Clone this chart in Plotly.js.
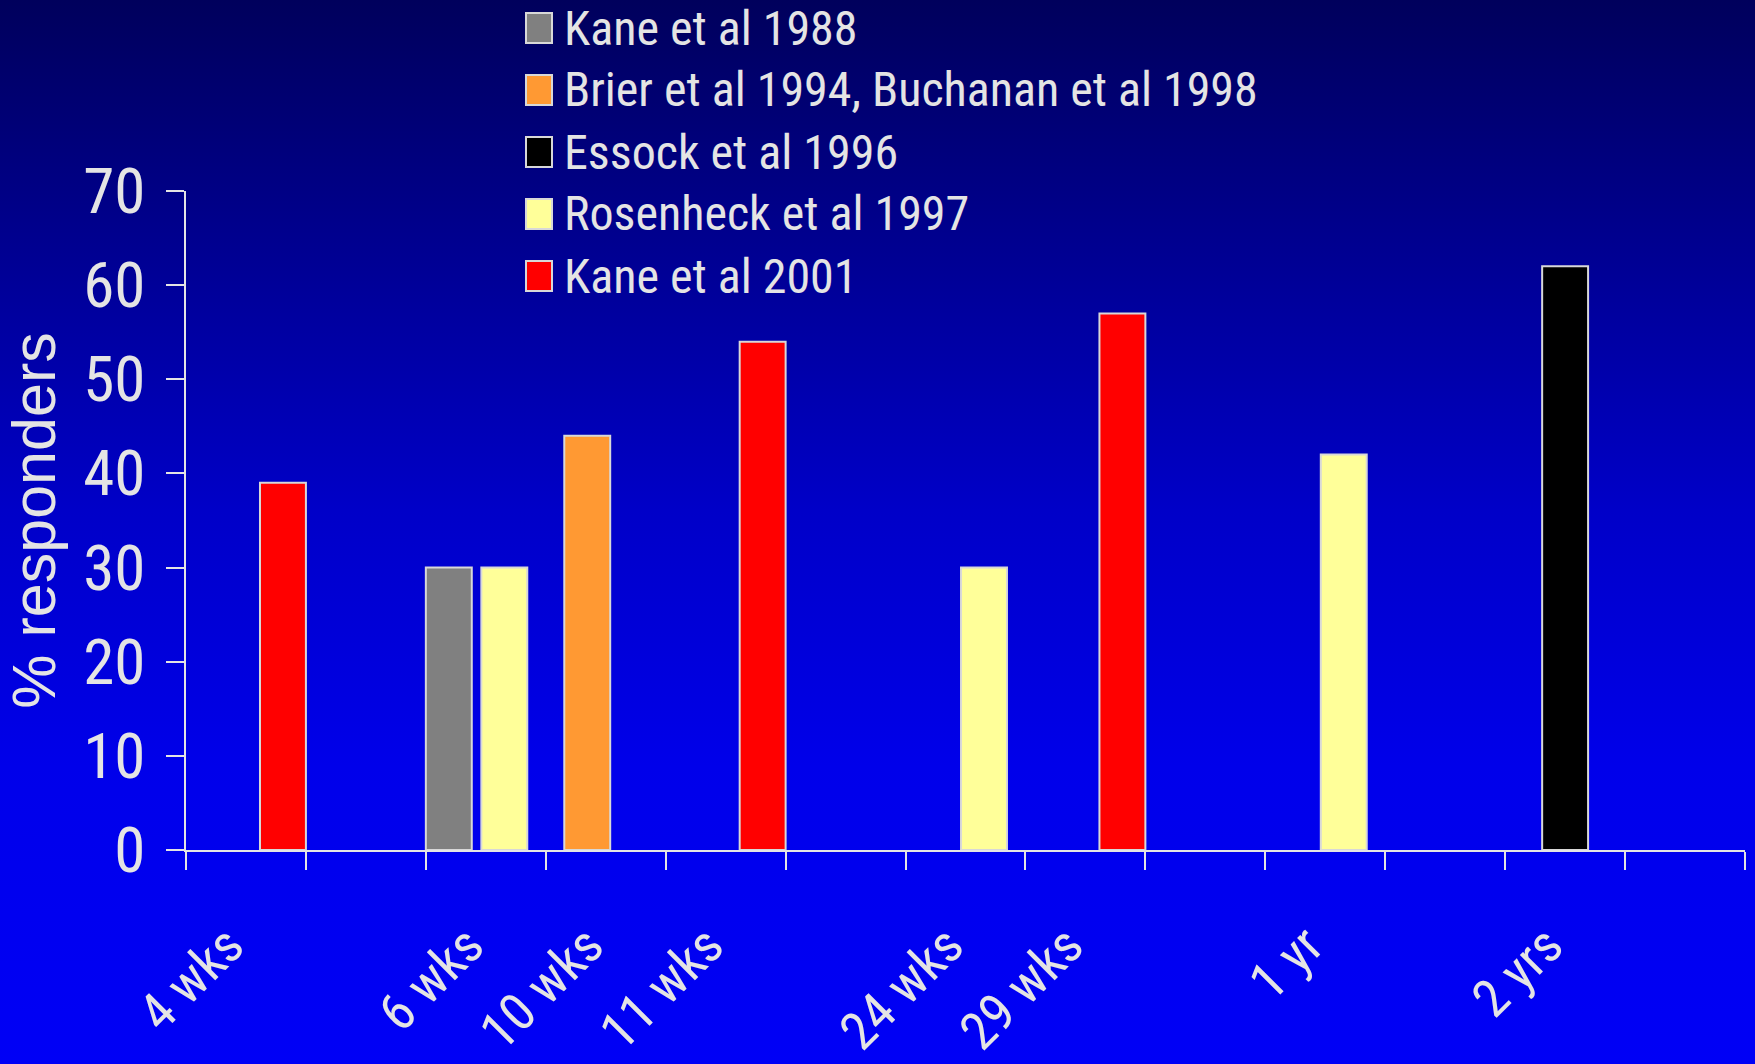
<!DOCTYPE html>
<html>
<head>
<meta charset="utf-8">
<script src="https://cdn.plot.ly/plotly-3.0.1.min.js"></script>
<style>
  html, body { margin: 0; padding: 0; }
  body {
    width: 1755px; height: 1064px; overflow: hidden;
    background: linear-gradient(to bottom, #00005c 0%, #0000a0 30%, #0000c8 48%, #0000ea 72%, #0000f6 100%);
  }
  #chart { width: 1755px; height: 1064px; }
</style>
</head>
<body>
<div id="chart"></div>
<script>
// Follow-up period of each column slot (blank slots hold no study)
const periods = ["4 wks", "", "6 wks", "10 wks", "11 wks", "", "24 wks", "29 wks", "", "1 yr", "", "2 yrs", ""];

// Study series, in legend order
const studies = ["Kane et al 1988", "Brier et al 1994, Buchanan et al 1998", "Essock et al 1996", "Rosenheck et al 1997", "Kane et al 2001"];
const colors = ["#808080", "#ff9933", "#000000", "#ffff99", "#ff0000"];

// % responders per slot
const kane1988     = [null, null, 30, null, null, null, null, null, null, null, null, null, null];
const brierBuch    = [null, null, null, 44, null, null, null, null, null, null, null, null, null];
const essock1996   = [null, null, null, null, null, null, null, null, null, null, null, 62, null];
const rosenheck97  = [null, null, 30, null, null, null, 30, null, null, 42, null, null, null];
const kane2001     = [39, null, null, null, 54, null, null, 57, null, null, null, null, null];

const seriesValues = [kane1988, brierBuch, essock1996, rosenheck97, kane2001];
const yTicks = [0, 10, 20, 30, 40, 50, 60, 70];

// Layout geometry (px)
const W = 1755, H = 1064;
const M = { l: 186, r: 10, t: 191, b: 214 };
const plotW = W - M.l - M.r, plotH = H - M.t - M.b;
const px2x = p => (p - M.l) / plotW;
const px2y = p => (H - M.b - p) / plotH;

const ink = "#e4e4e4";
const narrow = "'Roboto Condensed', 'Noto Sans Condensed', 'DejaVu Sans Condensed', sans-serif";
const regular = "'Liberation Sans', Arial, sans-serif";

// Overlapping clustered bars: each slot is 1 unit wide, bars 0.383 wide, stepped across the slot
const barW = 0.383;
const step = (1 - barW) / (studies.length - 1);
const slots = periods.map((_, i) => i);
const boundaries = slots.map(v => v - 0.5).concat([periods.length - 0.5]);

const traces = studies.map((name, k) => ({
  type: "bar",
  name: name,
  x: slots,
  y: seriesValues[k],
  width: barW,
  offset: -0.5 + k * step,
  marker: { color: colors[k], line: { color: "#d8d8d8", width: 2 } },
  hoverinfo: "name+y",
  showlegend: false
}));

// Legend drawn as swatches + labels stacked above the plot
const rowY = [28, 90, 152, 214, 276];
const shapes = studies.map((name, k) => ({
  type: "rect", xref: "paper", yref: "paper",
  x0: px2x(526), x1: px2x(552),
  y0: px2y(rowY[k] + 15), y1: px2y(rowY[k] - 15),
  fillcolor: colors[k], line: { color: "#d8d8d8", width: 2 }, layer: "above"
}));
const annotations = studies.map((name, k) => ({
  xref: "paper", yref: "paper",
  x: px2x(562), y: px2y(rowY[k]),
  xanchor: "left", yanchor: "middle",
  text: name, showarrow: false,
  font: { family: narrow, size: 48, color: ink }
}));

const layout = {
  width: W, height: H,
  margin: M,
  paper_bgcolor: "rgba(0,0,0,0)",
  plot_bgcolor: "rgba(0,0,0,0)",
  barmode: "overlay",
  showlegend: false,
  xaxis: {
    range: [-0.5, periods.length - 0.5],
    tickmode: "array",
    tickvals: slots,
    ticktext: periods,
    ticks: "",
    tickangle: -45,
    ticklabelstandoff: 41,
    ticklabelshift: -18,
    tickfont: { family: narrow, size: 53, color: ink },
    showline: true, linecolor: ink, linewidth: 2,
    showgrid: false, zeroline: false,
    minor: {
      tickmode: "array",
      tickvals: boundaries,
      ticks: "outside", ticklen: 18, tickwidth: 2, tickcolor: ink, showgrid: false
    },
    fixedrange: true
  },
  yaxis: {
    range: [0, 70],
    tickmode: "array",
    tickvals: yTicks,
    ticks: "outside", ticklen: 18, tickwidth: 2, tickcolor: ink,
    ticklabelstandoff: 8,
    tickfont: { family: narrow, size: 63, color: ink },
    showline: true, linecolor: ink, linewidth: 2,
    showgrid: false, zeroline: false,
    title: { text: "% responders", font: { family: regular, size: 61, color: ink }, standoff: 26 },
    fixedrange: true
  },
  shapes: shapes,
  annotations: annotations
};

Plotly.newPlot("chart", traces, layout, { displayModeBar: false, staticPlot: true });
</script>
</body>
</html>
